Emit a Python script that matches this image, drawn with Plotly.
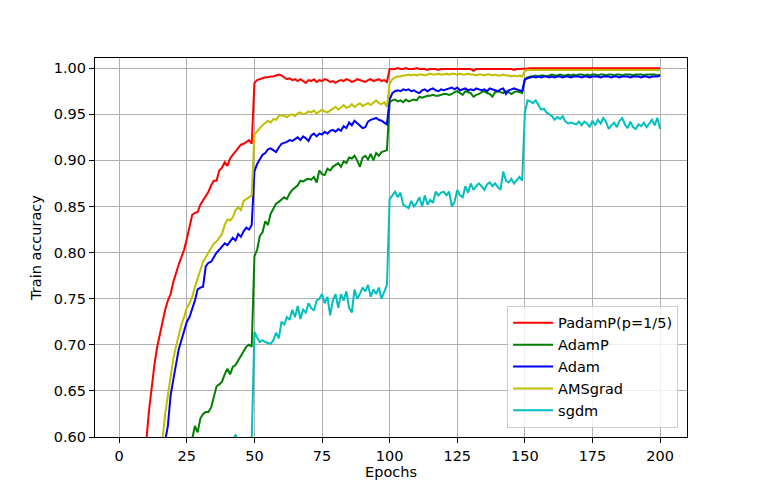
import plotly.graph_objects as go

epochs = list(range(1, 201))

padamp = [
    0.35, 0.40, 0.44, 0.47, 0.50, 0.52, 0.54, 0.555, 0.57, 0.595,
    0.628, 0.655, 0.678, 0.697, 0.712, 0.726, 0.738, 0.748, 0.755, 0.768,
    0.778, 0.787, 0.795, 0.803, 0.815, 0.828, 0.841, 0.843, 0.844, 0.852,
    0.857, 0.862, 0.866, 0.873, 0.878, 0.878, 0.889, 0.892, 0.898, 0.894,
    0.902, 0.906, 0.910, 0.913, 0.917, 0.918, 0.920, 0.922, 0.918, 0.984,
    0.987, 0.988, 0.989, 0.990, 0.990, 0.991, 0.991, 0.992, 0.993, 0.992,
    0.990, 0.988, 0.989, 0.987, 0.988, 0.986, 0.988, 0.986, 0.984, 0.987,
    0.986, 0.988, 0.985, 0.987, 0.986, 0.988, 0.987, 0.985, 0.986, 0.984,
    0.986, 0.987, 0.986, 0.988, 0.987, 0.985, 0.986, 0.988, 0.987, 0.986,
    0.985, 0.987, 0.988, 0.986, 0.987, 0.988, 0.986, 0.987, 0.985, 0.999,
    0.999, 0.999, 1.000, 0.999, 0.999, 1.000, 0.999, 0.999, 0.999, 1.000,
    0.999, 0.999, 0.999, 0.998, 0.999, 0.999, 0.999, 0.998, 0.999, 0.999,
    0.999, 0.999, 0.999, 0.999, 0.999, 0.999, 0.999, 0.999, 0.999, 0.999,
    0.997, 0.999, 0.999, 0.999, 0.999, 0.999, 0.999, 0.999, 0.999, 0.999,
    0.999, 0.999, 0.999, 0.999, 0.999, 0.998, 0.999, 0.999, 0.999, 0.999,
    0.9995, 1.000, 1.000, 0.9995, 1.000, 1.000, 1.000, 0.9995, 1.000, 1.000,
    1.000, 0.9995, 1.000, 1.000, 1.000, 1.000, 0.9995, 1.000, 1.000, 1.000,
    1.000, 1.000, 0.9995, 1.000, 1.000, 1.000, 1.000, 1.000, 0.9995, 1.000,
    1.000, 1.000, 1.000, 0.9995, 1.000, 1.000, 1.000, 1.000, 1.000, 1.000,
    0.9995, 1.000, 1.000, 1.000, 1.000, 0.9995, 1.000, 1.000, 1.000, 1.000,
]

adamp = [
    0.30, 0.33, 0.36, 0.39, 0.41, 0.43, 0.45, 0.47, 0.48, 0.50,
    0.51, 0.52, 0.53, 0.54, 0.55, 0.555, 0.56, 0.565, 0.57, 0.575,
    0.58, 0.584, 0.587, 0.59, 0.592, 0.595, 0.598, 0.612, 0.605, 0.620,
    0.625, 0.627, 0.627, 0.632, 0.645, 0.655, 0.657, 0.660, 0.668, 0.674,
    0.668, 0.676, 0.678, 0.683, 0.688, 0.693, 0.698, 0.700, 0.698, 0.796,
    0.803, 0.818, 0.822, 0.834, 0.830, 0.842, 0.848, 0.853, 0.855, 0.858,
    0.860, 0.858, 0.864, 0.868, 0.871, 0.873, 0.878, 0.877, 0.879, 0.880,
    0.879, 0.882, 0.876, 0.889, 0.885, 0.884, 0.891, 0.889, 0.893, 0.895,
    0.897, 0.893, 0.899, 0.897, 0.903, 0.902, 0.905, 0.900, 0.893, 0.903,
    0.905, 0.901, 0.907, 0.900, 0.908, 0.905, 0.909, 0.910, 0.911, 0.963,
    0.965, 0.966, 0.964, 0.965, 0.963, 0.966, 0.964, 0.965, 0.966, 0.965,
    0.969, 0.968, 0.969, 0.970, 0.970, 0.971, 0.970, 0.970, 0.971, 0.972,
    0.972, 0.971, 0.972, 0.974, 0.975, 0.973, 0.971, 0.975, 0.974, 0.973,
    0.969, 0.971, 0.972, 0.974, 0.975, 0.973, 0.972, 0.969, 0.974, 0.975,
    0.974, 0.973, 0.975, 0.974, 0.972, 0.974, 0.975, 0.974, 0.973, 0.988,
    0.990, 0.991, 0.991, 0.992, 0.991, 0.992, 0.992, 0.991, 0.992, 0.993,
    0.992, 0.992, 0.993, 0.992, 0.992, 0.993, 0.992, 0.993, 0.992, 0.993,
    0.993, 0.992, 0.993, 0.992, 0.993, 0.993, 0.992, 0.993, 0.993, 0.992,
    0.993, 0.993, 0.992, 0.993, 0.993, 0.992, 0.993, 0.993, 0.993, 0.992,
    0.993, 0.993, 0.993, 0.992, 0.993, 0.993, 0.993, 0.993, 0.992, 0.993,
]

adam = [
    0.32, 0.36, 0.40, 0.43, 0.46, 0.48, 0.50, 0.52, 0.535, 0.55,
    0.56, 0.57, 0.575, 0.58, 0.585, 0.59, 0.596, 0.612, 0.645, 0.662,
    0.678, 0.695, 0.705, 0.715, 0.725, 0.730, 0.738, 0.748, 0.760, 0.762,
    0.763, 0.785, 0.789, 0.790, 0.795, 0.800, 0.803, 0.807, 0.810, 0.808,
    0.812, 0.816, 0.813, 0.820, 0.817, 0.823, 0.827, 0.825, 0.830, 0.888,
    0.896, 0.901, 0.906, 0.908, 0.912, 0.913, 0.911, 0.909, 0.914, 0.918,
    0.919, 0.920, 0.922, 0.921, 0.923, 0.925, 0.922, 0.926, 0.924, 0.921,
    0.927, 0.929, 0.926, 0.929, 0.928, 0.931, 0.929, 0.932, 0.933, 0.931,
    0.934, 0.932, 0.937, 0.935, 0.941, 0.938, 0.943, 0.940, 0.937, 0.935,
    0.936, 0.942, 0.944, 0.945, 0.946, 0.944, 0.943, 0.941, 0.939, 0.966,
    0.973, 0.975, 0.976, 0.975, 0.977, 0.976, 0.977, 0.975, 0.976, 0.974,
    0.973, 0.976, 0.977, 0.975, 0.977, 0.978, 0.976, 0.975, 0.977, 0.976,
    0.977, 0.978, 0.979, 0.977, 0.979, 0.976, 0.977, 0.978, 0.976, 0.977,
    0.976, 0.978, 0.977, 0.976, 0.977, 0.975, 0.978, 0.977, 0.976, 0.975,
    0.977, 0.978, 0.972, 0.976, 0.977, 0.978, 0.977, 0.976, 0.975, 0.988,
    0.989, 0.990, 0.991, 0.990, 0.991, 0.990, 0.991, 0.991, 0.990, 0.991,
    0.990, 0.991, 0.991, 0.990, 0.991, 0.991, 0.990, 0.991, 0.991, 0.991,
    0.990, 0.991, 0.991, 0.990, 0.991, 0.991, 0.991, 0.990, 0.991, 0.991,
    0.991, 0.990, 0.991, 0.991, 0.990, 0.991, 0.991, 0.991, 0.990, 0.991,
    0.991, 0.991, 0.990, 0.991, 0.991, 0.990, 0.991, 0.991, 0.991, 0.992,
]

amsgrad = [
    0.34, 0.38, 0.42, 0.45, 0.48, 0.50, 0.52, 0.54, 0.55, 0.56,
    0.57, 0.575, 0.58, 0.585, 0.59, 0.597, 0.625, 0.645, 0.665, 0.685,
    0.698, 0.710, 0.722, 0.730, 0.740, 0.745, 0.752, 0.763, 0.772, 0.782,
    0.790, 0.795, 0.800, 0.805, 0.810, 0.812, 0.816, 0.820, 0.830, 0.836,
    0.835, 0.838, 0.846, 0.849, 0.846, 0.856, 0.858, 0.860, 0.862, 0.928,
    0.932, 0.935, 0.938, 0.940, 0.943, 0.941, 0.945, 0.944, 0.948, 0.949,
    0.948, 0.947, 0.949, 0.950, 0.948, 0.951, 0.952, 0.950, 0.951, 0.953,
    0.952, 0.954, 0.951, 0.953, 0.955, 0.953, 0.952, 0.954, 0.956, 0.958,
    0.955, 0.958, 0.960, 0.957, 0.958, 0.961, 0.958, 0.960, 0.962, 0.959,
    0.961, 0.962, 0.960, 0.963, 0.965, 0.962, 0.961, 0.963, 0.958, 0.983,
    0.988, 0.990, 0.991, 0.991, 0.992, 0.992, 0.993, 0.992, 0.993, 0.992,
    0.993, 0.993, 0.992, 0.993, 0.994, 0.993, 0.993, 0.994, 0.993, 0.993,
    0.994, 0.993, 0.994, 0.994, 0.993, 0.994, 0.993, 0.993, 0.994, 0.993,
    0.993, 0.992, 0.993, 0.993, 0.992, 0.993, 0.993, 0.992, 0.993, 0.992,
    0.992, 0.993, 0.992, 0.992, 0.991, 0.992, 0.991, 0.992, 0.991, 0.997,
    0.998, 0.998, 0.998, 0.998, 0.998, 0.998, 0.998, 0.998, 0.998, 0.998,
    0.998, 0.998, 0.998, 0.998, 0.998, 0.998, 0.998, 0.998, 0.998, 0.998,
    0.998, 0.998, 0.998, 0.998, 0.998, 0.998, 0.998, 0.998, 0.998, 0.998,
    0.998, 0.998, 0.998, 0.998, 0.998, 0.998, 0.998, 0.998, 0.998, 0.998,
    0.998, 0.998, 0.998, 0.998, 0.998, 0.998, 0.998, 0.998, 0.998, 0.998,
]

sgdm = [
    0.25, 0.30, 0.34, 0.38, 0.41, 0.43, 0.45, 0.46, 0.48, 0.49,
    0.50, 0.51, 0.52, 0.525, 0.53, 0.54, 0.545, 0.55, 0.555, 0.56,
    0.562, 0.565, 0.568, 0.57, 0.573, 0.575, 0.577, 0.58, 0.582, 0.583,
    0.585, 0.586, 0.588, 0.589, 0.59, 0.59, 0.592, 0.593, 0.594, 0.595,
    0.596, 0.598, 0.602, 0.596, 0.597, 0.598, 0.597, 0.599, 0.598, 0.714,
    0.708, 0.703, 0.705, 0.703, 0.702, 0.701, 0.705, 0.713, 0.707, 0.725,
    0.722, 0.730, 0.727, 0.738, 0.730, 0.742, 0.728, 0.738, 0.735, 0.745,
    0.740, 0.737, 0.748, 0.750, 0.755, 0.745, 0.752, 0.732, 0.748, 0.755,
    0.740, 0.755, 0.748, 0.758, 0.740, 0.735, 0.760, 0.750, 0.755, 0.762,
    0.758, 0.765, 0.752, 0.760, 0.755, 0.762, 0.750, 0.758, 0.765, 0.858,
    0.862, 0.866, 0.860, 0.865, 0.852, 0.850, 0.848, 0.856, 0.850, 0.854,
    0.860, 0.850, 0.862, 0.852, 0.857, 0.854, 0.866, 0.862, 0.865, 0.866,
    0.862, 0.866, 0.850, 0.855, 0.868, 0.862, 0.860, 0.872, 0.865, 0.875,
    0.868, 0.872, 0.875, 0.872, 0.868, 0.874, 0.876, 0.872, 0.875, 0.871,
    0.868, 0.888, 0.878, 0.876, 0.880, 0.875, 0.879, 0.882, 0.878, 0.952,
    0.965, 0.964, 0.962, 0.965, 0.960, 0.955, 0.956, 0.952, 0.950, 0.948,
    0.944, 0.947, 0.945, 0.948, 0.942, 0.940, 0.941, 0.940, 0.939, 0.942,
    0.938, 0.942, 0.940, 0.936, 0.943, 0.938, 0.944, 0.940, 0.946, 0.942,
    0.934, 0.938, 0.941, 0.936, 0.943, 0.946, 0.939, 0.935, 0.942, 0.936,
    0.934, 0.939, 0.937, 0.941, 0.936, 0.940, 0.944, 0.938, 0.946, 0.934,
]

series = [
    ("PadamP(p=1/5)", padamp, "#ff0000"),
    ("AdamP", adamp, "#008000"),
    ("Adam", adam, "#0000ff"),
    ("AMSgrad", amsgrad, "#bfbf00"),
    ("sgdm", sgdm, "#00bfbf"),
]

fig = go.Figure()
for name, vals, color in series:
    fig.add_trace(go.Scatter(
        x=epochs, y=vals, mode="lines", name=name,
        line=dict(color=color, width=2),
    ))

FONT = "DejaVu Sans"
FS = 14.5

axis_style = dict(
    showgrid=True, gridcolor="#b0b0b0", gridwidth=1,
    showline=True, linecolor="black", linewidth=1.2, mirror=True,
    ticks="outside", ticklen=5, tickcolor="black",
    zeroline=False,
    tickfont=dict(family=FONT, size=FS, color="black"),
)

# the page body has an 8px margin, so the figure is shrunk by that amount
fig.update_layout(
    width=755, height=482,
    margin=dict(l=87, r=76, t=50, b=53),
    paper_bgcolor="white", plot_bgcolor="white",
    font=dict(family=FONT, size=FS, color="black"),
    xaxis=dict(axis_style, range=[-8.95, 209.95], tickvals=list(range(0, 201, 25)),
               title=dict(text="Epochs", standoff=4, font=dict(size=FS))),
    yaxis=dict(axis_style, range=[0.6, 1.011], dtick=0.05, tick0=0.6, tickformat=".2f",
               title=dict(text="Train accuracy", standoff=8, font=dict(size=FS))),
    legend=dict(
        x=0.985, y=0.024, xanchor="right", yanchor="bottom",
        bgcolor="rgba(255,255,255,0.8)", bordercolor="#cccccc", borderwidth=1,
        font=dict(size=FS), itemwidth=40, tracegroupgap=0,
    ),
    showlegend=True,
)

fig.write_html("out.html")
